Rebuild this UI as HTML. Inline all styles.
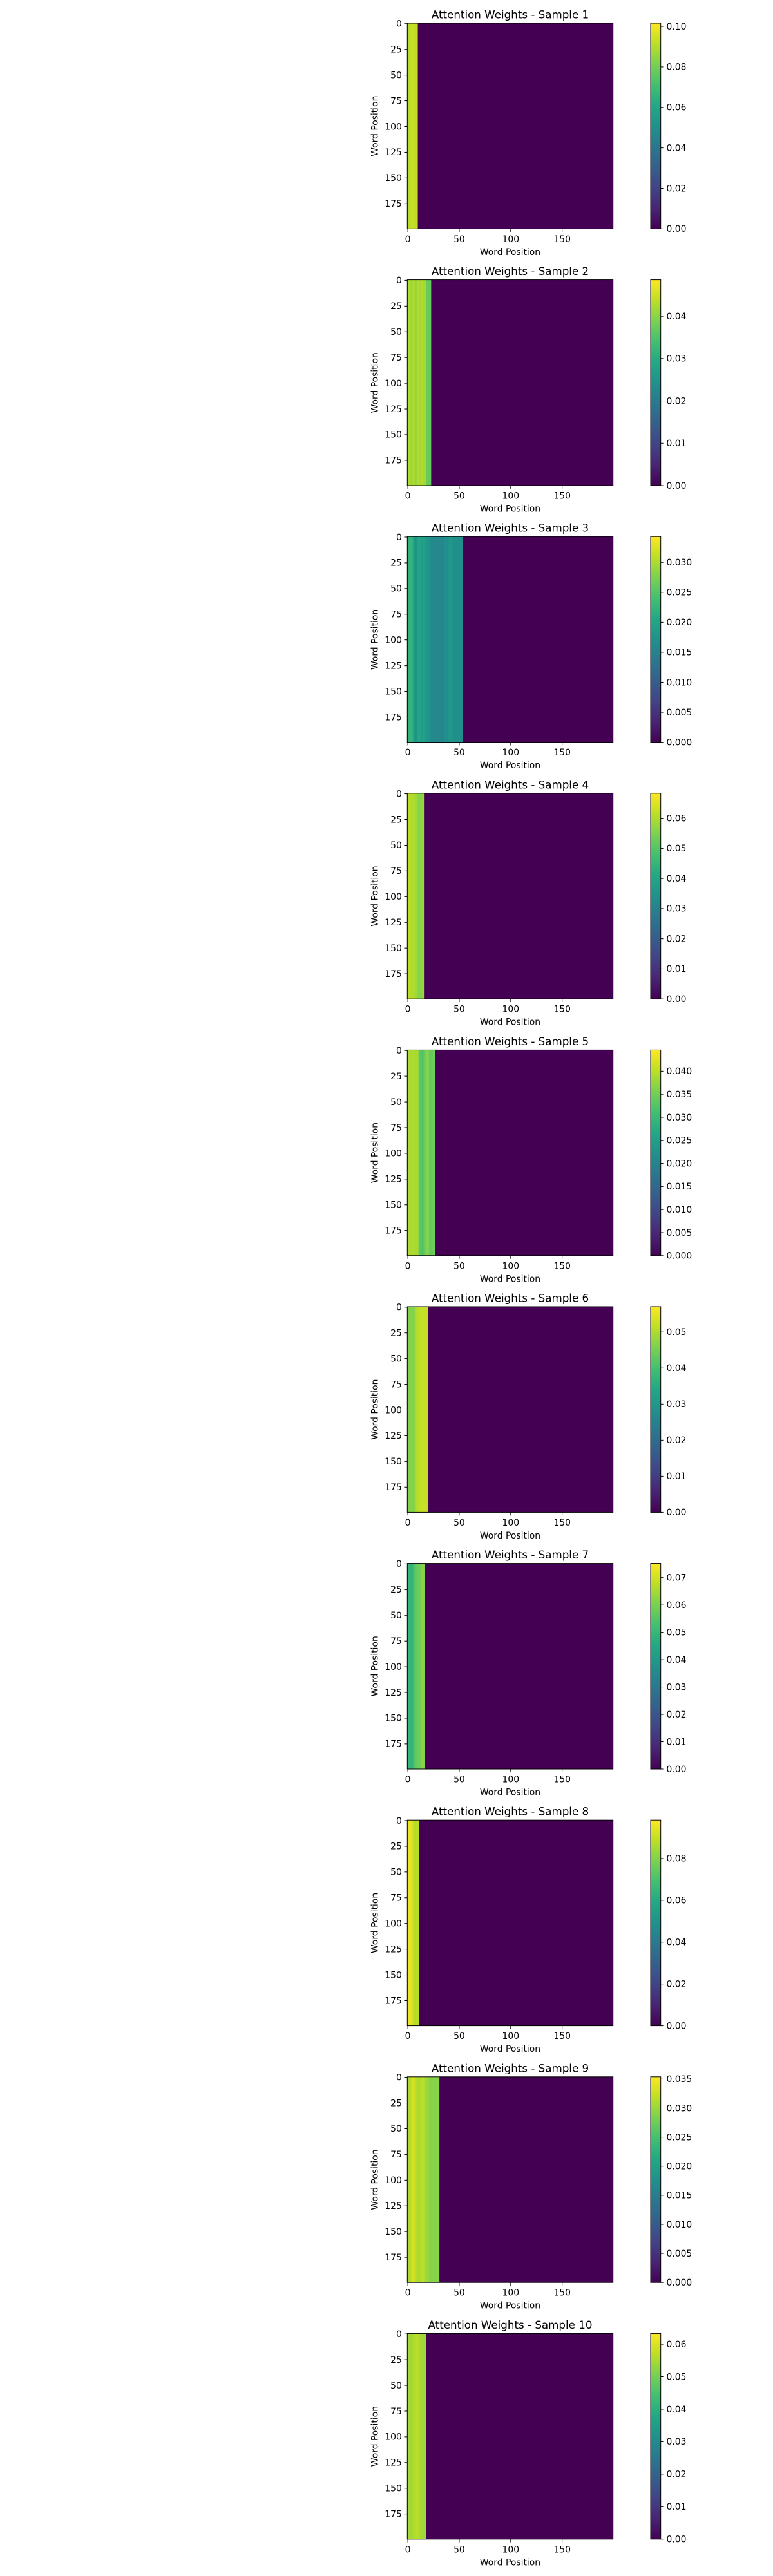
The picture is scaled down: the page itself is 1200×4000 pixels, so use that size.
<!DOCTYPE html>
<html><head><meta charset="utf-8">
<style>
html,body{margin:0;padding:0;background:#fff;}
svg{display:block;font-family:"DejaVu Sans","Liberation Sans",sans-serif;}
</style></head>
<body>
<svg id="fig" width="1200" height="4000" viewBox="0 0 1200 4000" xmlns="http://www.w3.org/2000/svg"></svg>
<script>
// ---- data (column attention weights, identical across rows) ----
const sampleTitles = ["Attention Weights - Sample 1","Attention Weights - Sample 2","Attention Weights - Sample 3","Attention Weights - Sample 4","Attention Weights - Sample 5","Attention Weights - Sample 6","Attention Weights - Sample 7","Attention Weights - Sample 8","Attention Weights - Sample 9","Attention Weights - Sample 10"];
const vmaxes = [0.1016,0.0486,0.0343,0.0683,0.0446,0.057,0.0752,0.0984,0.0354,0.0633];
const cbTickSteps = [0.02,0.01,0.005,0.01,0.005,0.01,0.01,0.02,0.005,0.01];
const cbTickDecimals = [2,2,3,2,3,2,2,2,3,2];
const s1 = [0.086,0.09,0.092,0.093,0.093,0.093,0.092,0.092,0.092,0.092];
const s2 = [0.044,0.043,0.042,0.042,0.041,0.042,0.043,0.042,0.041,0.042,0.043,0.042,0.042,0.043,0.043,0.042,0.042,0.042,0.038,0.037,0.037,0.037,0.037];
const s3 = [0.021,0.022,0.022,0.023,0.022,0.021,0.019,0.018,0.017,0.019,0.02,0.02,0.02,0.019,0.019,0.02,0.019,0.019,0.018,0.018,0.018,0.017,0.017,0.016,0.016,0.016,0.016,0.016,0.016,0.016,0.016,0.016,0.016,0.016,0.016,0.016,0.017,0.017,0.017,0.018,0.018,0.018,0.018,0.018,0.018,0.017,0.017,0.017,0.017,0.017,0.017,0.017,0.017,0.017];
const s4 = [0.06,0.061,0.061,0.061,0.06,0.06,0.06,0.06,0.059,0.058,0.056,0.056,0.056,0.057,0.057,0.058];
const s5 = [0.038,0.039,0.039,0.039,0.039,0.039,0.039,0.039,0.039,0.039,0.038,0.033,0.033,0.033,0.032,0.033,0.034,0.035,0.036,0.037,0.036,0.034,0.034,0.034,0.034,0.035,0.035];
const s6 = [0.045,0.046,0.046,0.047,0.046,0.046,0.046,0.048,0.05,0.051,0.051,0.051,0.052,0.052,0.052,0.052,0.052,0.052,0.052,0.052];
const s7 = [0.05,0.05,0.049,0.049,0.049,0.05,0.054,0.056,0.057,0.058,0.058,0.058,0.059,0.062,0.062,0.062,0.061];
const s8 = [0.095,0.096,0.096,0.096,0.095,0.09,0.088,0.088,0.088,0.088,0.088];
const s9 = [0.031,0.031,0.031,0.032,0.033,0.033,0.033,0.033,0.032,0.031,0.031,0.031,0.031,0.032,0.032,0.032,0.031,0.031,0.03,0.03,0.03,0.029,0.029,0.029,0.029,0.029,0.029,0.029,0.029,0.029,0.029];
const s10 = [0.056,0.055,0.055,0.054,0.055,0.055,0.056,0.056,0.057,0.057,0.056,0.055,0.055,0.054,0.054,0.054,0.054,0.054];
const samples = [s1,s2,s3,s4,s5,s6,s7,s8,s9,s10];
const axisTicks = [0,25,50,75,100,125,150,175];
const xTicks = [0,50,100,150];
const nWords = 200;

// ---- helpers ----
const NS = "http://www.w3.org/2000/svg";
const svg = document.getElementById("fig");
function mk(tag, attrs, parent){const e=document.createElementNS(NS,tag);for(const k in attrs)e.setAttribute(k,attrs[k]);(parent||svg).appendChild(e);return e;}
const VIR = [[68,1,84],[72,36,117],[65,68,135],[53,95,141],[42,120,142],[33,145,140],[34,168,132],[68,191,112],[122,209,81],[189,223,38],[253,231,37]];
function viridis(t){t=Math.max(0,Math.min(1,t));const p=t*(VIR.length-1);const i=Math.min(Math.floor(p),VIR.length-2);const f=p-i;const a=VIR[i],b=VIR[i+1];return `rgb(${Math.round(a[0]+(b[0]-a[0])*f)},${Math.round(a[1]+(b[1]-a[1])*f)},${Math.round(a[2]+(b[2]-a[2])*f)})`;}

const defs = mk("defs",{});
const grad = mk("linearGradient",{id:"vir",x1:"0",y1:"1",x2:"0",y2:"0"},defs);
VIR.forEach((c,i)=>{mk("stop",{offset:(i/(VIR.length-1)),"stop-color":`rgb(${c[0]},${c[1]},${c[2]})`},grad);});

const AX_L=632.3, AX_W=319.4, AX_H=319.4, CB_L=1010, CB_W=15.7, PITCH=398.6, TOP0=36;

samples.forEach((vals, si)=>{
  const T = TOP0 + PITCH*si;
  const vmax = vmaxes[si];
  const g = mk("g",{});
  
  
  const sx = v => AX_L + (v+0.5)*AX_W/nWords;
  const sy = v => T + (v+0.5)*AX_H/nWords;
  const cw = AX_W/nWords;
  const bg = mk("rect",{x:AX_L,y:T,width:AX_W,height:AX_H,fill:viridis(0)},g);
  
  
  vals.forEach((v,ci)=>{
    const r = mk("rect",{x:(sx(ci)-cw/2).toFixed(2),y:T,width:(cw+0.3).toFixed(2),height:AX_H,fill:viridis(v/vmax)},g);
    
    
  });
  const fr = mk("rect",{x:AX_L,y:T,width:AX_W,height:AX_H,fill:"none",stroke:"#000","stroke-width":1},g);
  
  
  const tt = mk("text",{x:AX_L+AX_W/2,y:T-7.5,"text-anchor":"middle","font-size":"16.7px",fill:"#000"},g);
  tt.textContent = sampleTitles[si];
  
  
  axisTicks.forEach(v=>{
    const y=sy(v);
    const tl=mk("line",{x1:AX_L-4.9,x2:AX_L,y1:y,y2:y,stroke:"#000","stroke-width":1},g);
    
    
    const lb=mk("text",{x:AX_L-8.5,y:y+4.8,"text-anchor":"end","font-size":"13.9px",fill:"#000"},g);
    lb.textContent=v;
    
    
  });
  xTicks.forEach(v=>{
    const x=sx(v);
    const tl=mk("line",{x1:x,x2:x,y1:T+AX_H,y2:T+AX_H+4.9,stroke:"#000","stroke-width":1},g);
    
    
    const lb=mk("text",{x:x,y:T+AX_H+20.5,"text-anchor":"middle","font-size":"13.9px",fill:"#000"},g);
    lb.textContent=v;
    
    
  });
  const xl=mk("text",{x:AX_L+AX_W/2,y:T+AX_H+40.5,"text-anchor":"middle","font-size":"13.9px",fill:"#000"},g);
  xl.textContent="Word Position";
  
  
  const yl=mk("text",{x:0,y:0,"text-anchor":"middle","font-size":"13.9px",fill:"#000",transform:`translate(586.5,${T+AX_H/2}) rotate(-90)`},g);
  yl.textContent="Word Position";
  
  
  const cb=mk("rect",{x:CB_L,y:T,width:CB_W,height:AX_H,fill:"url(#vir)",stroke:"#000","stroke-width":1},g);
  
  
  const step=cbTickSteps[si];
  for(let k=0;k*step<=vmax+1e-9;k++){
    const v=k*step;
    const y=T+AX_H-(v/vmax)*AX_H;
    const tl=mk("line",{x1:CB_L+CB_W,x2:CB_L+CB_W+4.9,y1:y,y2:y,stroke:"#000","stroke-width":1},g);
    
    
    const lb=mk("text",{x:CB_L+CB_W+8.8,y:y+4.8,"font-size":"13.9px",fill:"#000"},g);
    lb.textContent=v.toFixed(cbTickDecimals[si]);
    
    
  }
});
</script>
</body></html>
